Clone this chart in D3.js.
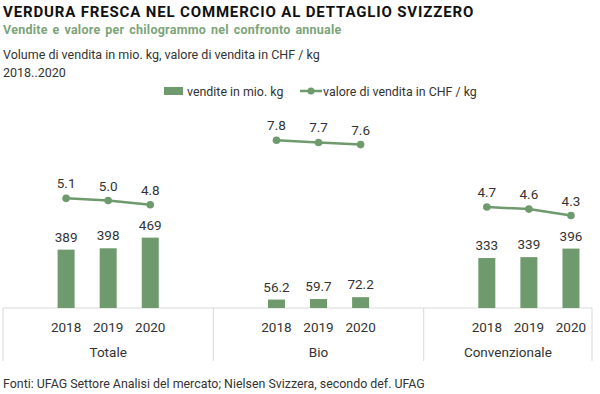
<!DOCTYPE html>
<html>
<head>
<meta charset="utf-8">
<script src="https://cdn.jsdelivr.net/npm/d3@7"></script>
<style>
  body { margin: 0; background: #fff; }
  text { font-family: Roboto, "Liberation Sans", sans-serif; }
</style>
</head>
<body>
<div id="chart-area"></div>
<script>
const groups = ['Totale', 'Bio', 'Convenzionale'];
const years = ['2018', '2019', '2020'];
const sales = [[389, 398, 469], [56.2, 59.7, 72.2], [333, 339, 396]];
const salesLabels = [['389', '398', '469'], ['56.2', '59.7', '72.2'], ['333', '339', '396']];
const prices = [[5.1, 5.0, 4.8], [7.8, 7.7, 7.6], [4.7, 4.6, 4.3]];

let width = 600;
let height = 394;
let green = '#6f9a6d';
let grid = '#d9d9d9';

let svg = d3
  .select('#chart-area')
  .append('svg')
  .attr('width', width)
  .attr('height', height);

//slots per group: blank, 3 years, blank (last group has no trailing blank)
let slots = [];
groups.forEach((g, gi) => {
  slots.push(g + '-pre');
  years.forEach((y) => slots.push(g + '-' + y));
  if (gi < groups.length - 1) slots.push(g + '-post');
});

let left = 3;
let right = 592;
let baseY = 308;
let plotTop = 93;

let x = d3.scaleBand().domain(slots).range([left, right]).paddingInner(0).paddingOuter(0);
let barW = 17;

let yBar = d3.scaleLinear().domain([0, 1433]).range([baseY, plotTop]);
let yLine = d3.scaleLinear().domain([0, 10]).range([baseY, plotTop]);

//titles
svg.append('text')
  .attr('x', 3).attr('y', 17)
  .style('font-size', '15px').style('font-weight', 'bold')
  .style('letter-spacing', '0.85px').attr('fill', '#111')
  .text('VERDURA FRESCA NEL COMMERCIO AL DETTAGLIO SVIZZERO');
svg.append('text')
  .attr('x', 3).attr('y', 34)
  .style('font-size', '12.5px').style('font-weight', 'bold')
  .style('letter-spacing', '0.25px').style('word-spacing', '1.5px')
  .attr('fill', '#7ca479')
  .text('Vendite e valore per chilogrammo nel confronto annuale');
svg.append('text')
  .attr('x', 3).attr('y', 59)
  .style('font-size', '12.5px').attr('fill', '#333')
  .text('Volume di vendita in mio. kg, valore di vendita in CHF / kg');
svg.append('text')
  .attr('x', 3).attr('y', 77)
  .style('font-size', '12.5px').attr('fill', '#333')
  .text('2018..2020');

//legend
let legend = svg.append('g').attr('transform', 'translate(0, 91)');
legend.append('rect').attr('x', 164).attr('y', -4).attr('width', 19).attr('height', 8).attr('fill', green);
legend.append('text').attr('x', 187).attr('y', 5).style('font-size', '12.4px').attr('fill', '#333').text('vendite in mio. kg');
legend.append('line').attr('x1', 300).attr('x2', 322).attr('y1', 0).attr('y2', 0).attr('stroke', green).attr('stroke-width', 2.5);
legend.append('circle').attr('cx', 311).attr('cy', 0).attr('r', 3.5).attr('fill', green);
legend.append('text').attr('x', 323).attr('y', 5).style('font-size', '12.4px').attr('fill', '#333').text('valore di vendita in CHF / kg');

//axis lines
svg.append('line').attr('x1', left).attr('x2', right).attr('y1', baseY).attr('y2', baseY).attr('stroke', grid);
let dividers = [left, x(groups[1] + '-pre'), x(groups[2] + '-pre'), right];
svg.selectAll('.divider')
  .data(dividers)
  .enter()
  .append('line')
  .attr('class', 'divider')
  .attr('x1', (d) => d).attr('x2', (d) => d)
  .attr('y1', baseY).attr('y2', 361)
  .attr('stroke', grid);

let cx = (g, y) => x(g + '-' + y) + x.bandwidth() / 2;

groups.forEach((g, gi) => {
  let gEl = svg.append('g');

  gEl.selectAll('rect')
    .data(years)
    .enter()
    .append('rect')
    .attr('x', (y) => cx(g, y) - barW / 2)
    .attr('width', barW)
    .attr('y', (y, i) => yBar(sales[gi][i]))
    .attr('height', (y, i) => baseY - yBar(sales[gi][i]))
    .attr('fill', green);

  gEl.selectAll('.bar-label')
    .data(years)
    .enter()
    .append('text')
    .attr('class', 'bar-label')
    .attr('x', (y) => cx(g, y))
    .attr('y', (y, i) => yBar(sales[gi][i]) - 8)
    .attr('text-anchor', 'middle')
    .style('font-size', '13.5px').attr('fill', '#333')
    .text((y, i) => salesLabels[gi][i]);

  let line = d3.line().x((d) => cx(g, d.year)).y((d) => yLine(d.v));
  let pts = years.map((y, i) => ({ year: y, v: prices[gi][i] }));
  gEl.append('path')
    .attr('d', line(pts))
    .attr('fill', 'none').attr('stroke', green).attr('stroke-width', 2.5);
  gEl.selectAll('circle')
    .data(pts)
    .enter()
    .append('circle')
    .attr('cx', (d) => cx(g, d.year)).attr('cy', (d) => yLine(d.v))
    .attr('r', 3.8).attr('fill', green);
  gEl.selectAll('.line-label')
    .data(pts)
    .enter()
    .append('text')
    .attr('class', 'line-label')
    .attr('x', (d) => cx(g, d.year))
    .attr('y', (d) => yLine(d.v) - 10)
    .attr('text-anchor', 'middle')
    .style('font-size', '13.5px').attr('fill', '#333')
    .text((d) => d.v.toFixed(1));

  //year ticks
  gEl.selectAll('.year')
    .data(years)
    .enter()
    .append('text')
    .attr('class', 'year')
    .attr('x', (y) => cx(g, y))
    .attr('y', 332)
    .attr('text-anchor', 'middle')
    .style('font-size', '13.5px').attr('fill', '#333')
    .text((y) => y);

  gEl.append('text')
    .attr('x', (dividers[gi] + dividers[gi + 1]) / 2)
    .attr('y', 357)
    .attr('text-anchor', 'middle')
    .style('font-size', '13.5px').attr('fill', '#333')
    .text(g);
});

svg.append('text')
  .attr('x', 3).attr('y', 388)
  .style('font-size', '12.4px').attr('fill', '#333')
  .text('Fonti: UFAG Settore Analisi del mercato; Nielsen Svizzera, secondo def. UFAG');
</script>
</body>
</html>
